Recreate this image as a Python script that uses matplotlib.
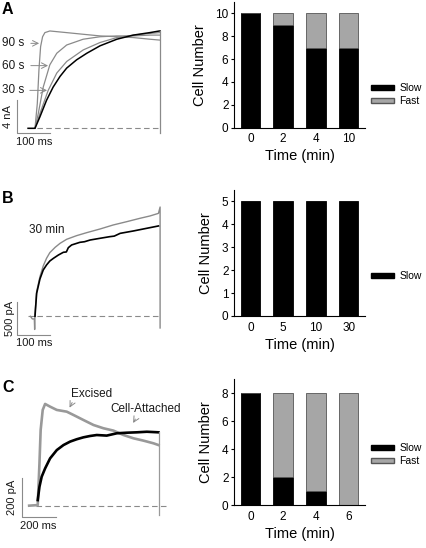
import matplotlib
matplotlib.use('Agg')
import matplotlib.pyplot as plt
from matplotlib.patches import Patch

plt.rcParams['font.family'] = ['Liberation Sans', 'DejaVu Sans']

# -- bar data (cell counts)
a_times = ['0', '2', '4', '10']
a_slow = [10, 9, 7, 7]
a_fast = [0, 1, 3, 3]

b_times = ['0', '5', '10', '30']
b_slow = [5, 5, 5, 5]

c_times = ['0', '2', '4', '6']
c_slow = [8, 2, 1, 0]
c_fast = [0, 6, 7, 8]

# -- traces, A (ms, nA)
a_t_ctrl = [-21, 0, 15, 35, 55, 76, 96, 126, 157, 197, 248, 298, 348, 377, 379]
a_i_ctrl = [0, 0, 1.4, 3.4, 5.0, 6.3, 7.3, 8.3, 9.1, 10.0, 10.8, 11.3, 11.6, 11.8, 11.8]
a_t_30 = [0, 15, 40, 66, 96, 146, 197, 248, 298, 348, 377]
a_i_30 = [0, 1.8, 4.6, 6.7, 8.1, 9.5, 10.4, 11.0, 11.3, 11.5, 11.6]
a_t_60 = [0, 10, 25, 45, 66, 96, 146, 197, 248, 298, 348, 377]
a_i_60 = [0, 1.8, 5.0, 7.7, 9.1, 10.1, 10.8, 11.1, 11.2, 11.2, 11.3, 11.3]
a_t_90 = [0, 7, 12, 17, 23, 30, 45, 96, 146, 197, 248, 298, 348, 377]
a_i_90 = [0, 3.0, 7.1, 9.9, 11.1, 11.6, 11.8, 11.6, 11.4, 11.2, 11.1, 11.0, 10.8, 10.7]

# -- traces, B (ms, pA)
b_t_ctrl = [0, 5, 15, 25, 35, 45, 56, 71, 86, 95, 101, 111, 136, 150, 167, 197, 227, 240,
            258, 298, 338, 374]
b_i_ctrl = [0, 348, 566, 702, 778, 838, 879, 929, 970, 975, 1040, 1081, 1121, 1130, 1156,
            1182, 1207, 1215, 1257, 1293, 1333, 1369]
b_t_30 = [-14, -8, -2, -1, 0, 5, 15, 25, 35, 45, 61, 76, 96, 126, 157, 197, 237, 278, 318,
          348, 374, 379, 379]
b_i_30 = [0, -40, -40, -200, 40, 374, 601, 763, 879, 965, 1045, 1106, 1167, 1222, 1268,
          1323, 1384, 1434, 1485, 1520, 1560, 1656, -177]

# -- traces, C (ms, pA)
c_t_exc = [-50, 0, 10, 17, 29, 43, 72, 111, 169, 208, 266, 325, 383, 441, 500, 558, 616,
           675, 704]
c_i_exc = [0, 3, 219, 392, 496, 527, 513, 496, 487, 470, 444, 418, 401, 389, 366, 349, 337,
           323, 314]
c_t_att = [0, 10, 23, 43, 72, 111, 150, 189, 227, 266, 305, 344, 402, 461, 519, 577, 636, 704]
c_i_att = [29, 98, 150, 193, 245, 288, 314, 332, 344, 354, 361, 366, 363, 375, 378, 380, 383,
           380]

W, H = 426, 548
fig = plt.figure(figsize=(W / 100, H / 100), dpi=100)

def fbox(x0, y0, x1, y1):
    # pixel box (top-left origin) -> figure fraction
    return [x0 / W, 1 - y1 / H, (x1 - x0) / W, (y1 - y0) / H]

GRAY = '#8a8a8a'
TXT = '#1a1a1a'
fs_small = 8

# ---------------- trace panels ----------------
axA = fig.add_axes(fbox(0, 20, 170, 150))
axA.set_xlim(-106, 409)
axA.set_ylim(-2.63, 13.13)
axA.axis('off')
axA.plot([-21, 379], [0, 0], ls=(0, (5, 3)), color=GRAY, lw=0.8)
axA.plot(a_t_90, a_i_90, color=GRAY, lw=0.9)
axA.plot(a_t_60, a_i_60, color=GRAY, lw=0.9)
axA.plot(a_t_30, a_i_30, color=GRAY, lw=0.9)
axA.plot(a_t_ctrl, a_i_ctrl, color='black', lw=1.1)
axA.plot([379, 379], [11.8, -0.6], color=GRAY, lw=0.9)
axA.plot([-54, -54, 46], [3.4, -0.6, -0.6], color=GRAY, lw=0.8)
axA.text(-82, 1.4, '4 nA', rotation=90, ha='center', va='center', fontsize=fs_small, color=TXT)
axA.text(-3, -1.6, '100 ms', ha='center', va='center', fontsize=fs_small, color=TXT)
for lab, yy, x0, x1 in [('90 s', 10.3, -21, 21), ('60 s', 7.6, -21, 48), ('30 s', 4.6, -24, 45)]:
    axA.text(-65, yy, lab, ha='center', va='center', fontsize=fs_small + 0.5, color=TXT)
    axA.annotate('', xy=(x1, yy), xytext=(x0, yy),
                 arrowprops=dict(arrowstyle='->', color=GRAY, lw=0.7))

axB = fig.add_axes(fbox(0, 190, 170, 350))
axB.set_xlim(-106, 409)
axB.set_ylim(-511, 1914)
axB.axis('off')
axB.plot([-21, 379], [0, 0], ls=(0, (5, 3)), color=GRAY, lw=0.8)
axB.plot(b_t_30, b_i_30, color=GRAY, lw=1.0)
axB.plot(b_t_ctrl, b_i_ctrl, color='black', lw=1.2)
axB.plot([-54, -54, 46], [217, -283, -283], color=GRAY, lw=0.8)
axB.text(-76, -40, '500 pA', rotation=90, ha='center', va='center', fontsize=fs_small, color=TXT)
axB.text(-3, -404, '100 ms', ha='center', va='center', fontsize=fs_small, color=TXT)
axB.text(36, 1308, '30 min', ha='center', va='center', fontsize=fs_small + 0.5, color=TXT)

axC = fig.add_axes(fbox(0, 375, 170, 535))
axC.set_xlim(-220, 771)
axC.set_ylim(-152, 677)
axC.axis('off')
axC.plot([-10, 754], [0, 0], ls=(0, (5, 3)), color=GRAY, lw=0.8)
axC.plot(c_t_exc, c_i_exc, color='#999999', lw=1.9)
axC.plot(c_t_att, c_i_att, color='black', lw=1.9)
axC.plot([704, 704], [380, -48], color='#999999', lw=0.9)
axC.plot([-93, -93, 107], [143, -57, -57], color=GRAY, lw=0.8)
axC.text(-150, 45, '200 pA', rotation=90, ha='center', va='center', fontsize=fs_small, color=TXT)
axC.text(2, -104, '200 ms', ha='center', va='center', fontsize=fs_small, color=TXT)
axC.text(311, 579, 'Excised', ha='center', va='center', fontsize=fs_small + 0.5, color=TXT)
axC.text(626, 499, 'Cell-Attached', ha='center', va='center', fontsize=fs_small + 0.5, color=TXT)
axC.annotate('', xy=(178, 495), xytext=(208, 547),
             arrowprops=dict(arrowstyle='->', color=GRAY, lw=0.7))
axC.annotate('', xy=(548, 416), xytext=(577, 461),
             arrowprops=dict(arrowstyle='->', color=GRAY, lw=0.7))

# panel letters
for lab, y in [('A', 10), ('B', 198), ('C', 388)]:
    fig.text(2 / W, 1 - y / H, lab, fontsize=11.5, fontweight='bold', va='center', ha='left')

# ---------------- bar panels ----------------
BAR_GRAY = '#a6a6a6'

def bar_panel(box, times, slow, fast, ylim, yticks, legend_y):
    ax = fig.add_axes(fbox(*box))
    pos = list(range(len(times)))
    ax.bar(pos, slow, width=0.6, color='black', edgecolor='black', lw=0.6)
    handles = [Patch(facecolor='black', edgecolor='black', label='Slow')]
    if fast is not None:
        ax.bar(pos, fast, bottom=slow, width=0.6, color=BAR_GRAY, edgecolor='#555555', lw=0.6)
        handles.append(Patch(facecolor=BAR_GRAY, edgecolor='#555555', label='Fast'))
    ax.set_xlim(-0.5, 3.5)
    ax.set_ylim(*ylim)
    ax.set_yticks(yticks)
    ax.set_xticks(pos)
    ax.set_xticklabels(times)
    for s in ['top', 'right']:
        ax.spines[s].set_visible(False)
    for s in ['left', 'bottom']:
        ax.spines[s].set_linewidth(0.8)
    ax.tick_params(axis='y', length=2, width=0.8, labelsize=8.5, pad=2)
    ax.tick_params(axis='x', length=0, labelsize=8.5, pad=4)
    ax.set_xlabel('Time (min)', fontsize=10.5, labelpad=3)
    ax.set_ylabel('Cell Number', fontsize=10.5, labelpad=6)
    fig.legend(handles=handles, loc='upper left', frameon=False,
               bbox_to_anchor=(371 / W, 1 - legend_y / H), fontsize=7.5,
               handlelength=2.2, handleheight=0.3, handletextpad=0.5,
               labelspacing=0.3, borderpad=0, borderaxespad=0)
    return ax

bar_panel((234, 2, 365, 127.7), a_times, a_slow, a_fast, (0, 11), [0, 2, 4, 6, 8, 10], 83)
bar_panel((234, 190, 365, 316), b_times, b_slow, None, (0, 5.5), [0, 1, 2, 3, 4, 5], 271)
bar_panel((234, 379, 365, 505), c_times, c_slow, c_fast, (0, 9), [0, 2, 4, 6, 8], 443)

fig.savefig('out.png', dpi=100)
